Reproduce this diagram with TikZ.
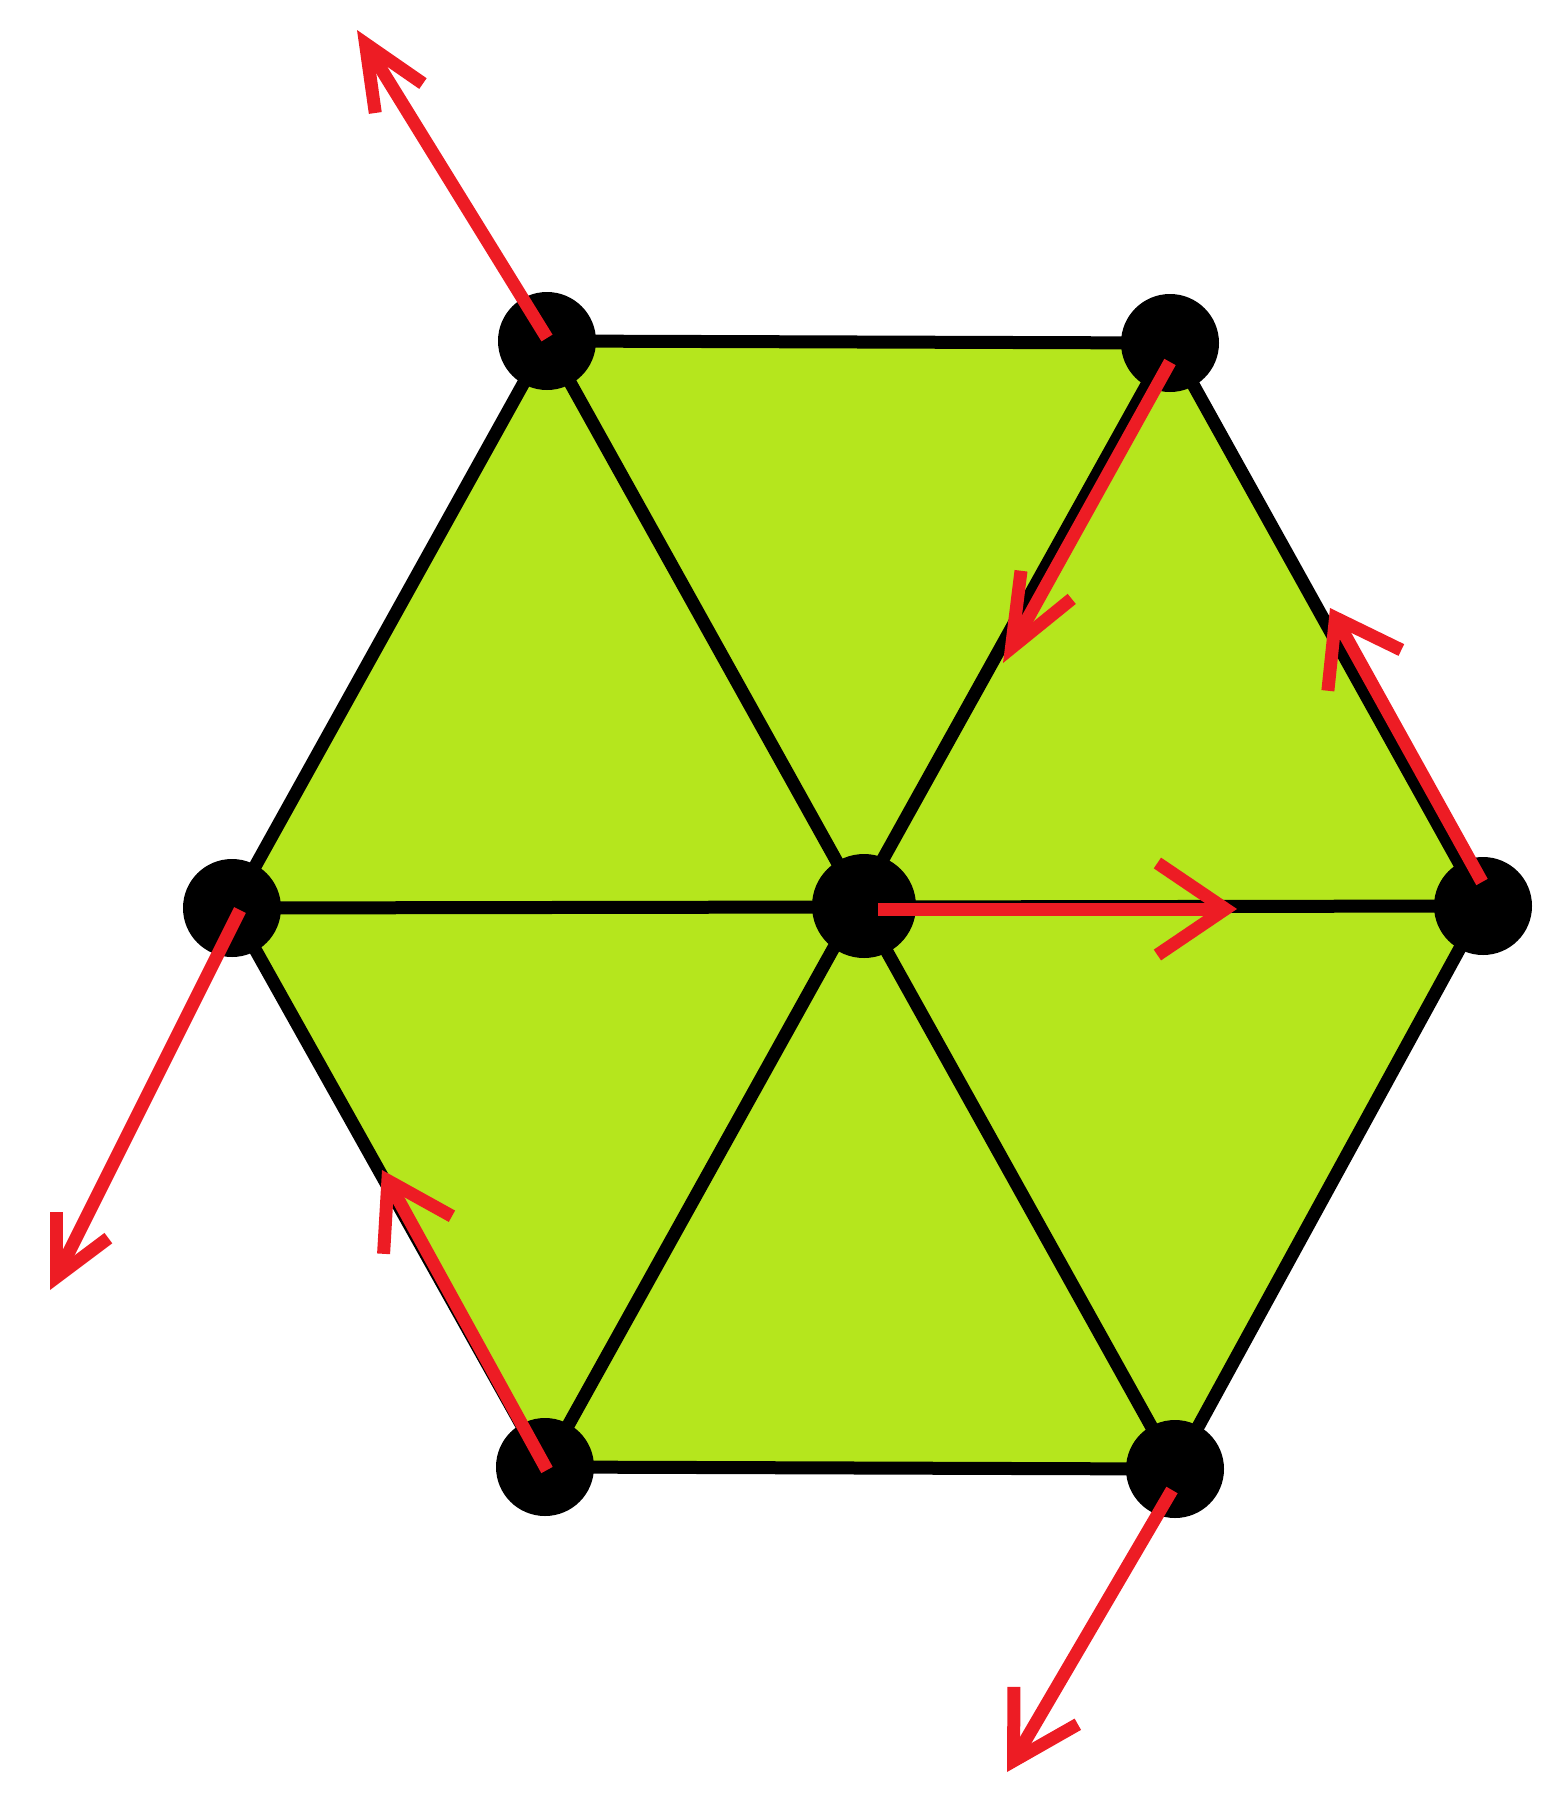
\documentclass[tikz,border=0pt]{standalone}
\usetikzlibrary{arrows.meta,calc}
\definecolor{paintlime}{RGB}{181,230,29}
\definecolor{paintred}{RGB}{237,28,36}
\begin{document}
\begin{tikzpicture}[x=1pt,y=-1pt,
  vertex/.style={circle,fill=black,inner sep=0pt,minimum size=98pt},
  edge/.style={line width=13pt,black},
  vec/.style 2 args={line width=13pt,paintred,-{Straight Barb[length=#1,width=#2]}}]
\useasboundingbox (0,0) rectangle (1560,1804);
% vertices
\coordinate (pC) at (864,906);
\coordinate (pTL) at (547,341);
\coordinate (pTR) at (1170,343);
\coordinate (pR) at (1483,906);
\coordinate (pBR) at (1175,1469);
\coordinate (pBL) at (545,1467);
\coordinate (pL) at (232,908);
% arrow ends
\coordinate (aTL) at (357,30);
\coordinate (aTR) at (1003,663);
\coordinate (aR) at (1330,608);
\coordinate (aC) at (1237,909);
\coordinate (aL) at (50,1290);
\coordinate (aBL) at (382,1170);
\coordinate (aBR) at (1007,1772);
% hexagon
\fill[paintlime] (pTL) -- (pTR) -- (pR) -- (pBR) -- (pBL) -- (pL) -- cycle;
\draw[edge,line join=miter] (pTL) -- (pTR) -- (pR) -- (pBR) -- (pBL) -- (pL) -- cycle;
\draw[edge] (pTL) -- (pBR);
\draw[edge] (pTR) -- (pBL);
\draw[edge] (pL) -- (pR);
% nodes
\node[vertex,minimum size=104pt] (nC) at (pC) {};
\node[vertex] (nTL) at (pTL) {};
\node[vertex] (nTR) at (pTR) {};
\node[vertex] (nR) at (pR) {};
\node[vertex] (nBR) at (pBR) {};
\node[vertex] (nBL) at (pBL) {};
\node[vertex] (nL) at (pL) {};
% vectors
\draw[vec={64pt}{56pt}] ($(nTL.center)+(0,-3)$) -- (aTL);
\draw[vec={72pt}{58pt}] ($(nTR.center)+(0,19)$) -- (aTR);
\draw[vec={60pt}{84pt}] ($(nR.center)+(-1,-24)$) -- (aR);
\draw[vec={68pt}{92pt}] ($(nC.center)+(14,3)$) -- (aC);
\draw[vec={58pt}{58pt}] ($(nL.center)+(8,2)$) -- (aL);
\draw[vec={62pt}{78pt}] ($(nBL.center)+(2,3)$) -- (aBL);
\draw[vec={64pt}{74pt}] ($(nBR.center)+(-3,21)$) -- (aBR);
\end{tikzpicture}
\end{document}
